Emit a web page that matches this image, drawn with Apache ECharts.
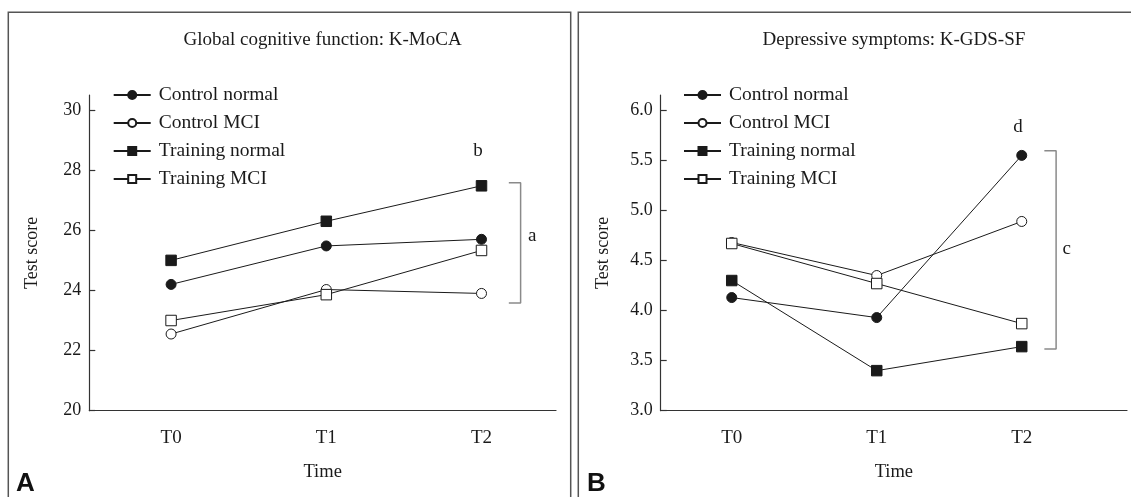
<!DOCTYPE html>
<html>
<head>
<meta charset="utf-8">
<script src="https://cdn.jsdelivr.net/npm/echarts@6/dist/echarts.min.js"></script>
<style>
html,body{margin:0;padding:0;background:#fff;}
#chart{width:1131px;height:497px;}
</style>
</head>
<body>
<div id="chart"></div>
<script>
// ---- data ----
const categories = ['T0', 'T1', 'T2'];
const seriesNames = ['Control normal', 'Control MCI', 'Training normal', 'Training MCI'];

// Panel A: K-MoCA
const mocaControlNormal = [24.2, 25.48, 25.7];
const mocaControlMCI = [22.55, 24.03, 23.9];
const mocaTrainingNormal = [25.0, 26.3, 27.48];
const mocaTrainingMCI = [23.0, 23.86, 25.33];
const mocaTicks = [20, 22, 24, 26, 28, 30];

// Panel B: K-GDS-SF
const gdsControlNormal = [4.13, 3.93, 5.55];
const gdsControlMCI = [4.68, 4.35, 4.89];
const gdsTrainingNormal = [4.30, 3.40, 3.64];
const gdsTrainingMCI = [4.67, 4.27, 3.87];
const gdsTicks = [3.0, 3.5, 4.0, 4.5, 5.0, 5.5, 6.0];

// significance annotations (data coordinates)
const mocaBracketRange = [23.58, 27.58];
const gdsBracketRange = [3.615, 5.597];
const mocaLetters = [[1.977, 28.64, 'b'], [2.327, 25.82, 'a']];
const gdsLetters = [[1.975, 5.83, 'd'], [2.31, 4.61, 'c']];

// ---- styles ----
const serif = 'Liberation Serif';
const ink = '#1a1a1a';
const markerStyles = [
  { symbol: 'circle', fill: ink, size: 10 },
  { symbol: 'circle', fill: '#ffffff', size: 10 },
  { symbol: 'rect', fill: ink, size: 10.5 },
  { symbol: 'rect', fill: '#ffffff', size: 10.5 }
];

function lineSeries(name, values, idx, st) {
  return {
    type: 'line', name: name, xAxisIndex: idx, yAxisIndex: idx,
    data: values.map((v, i) => [i, v]),
    symbol: st.symbol, symbolSize: st.size, showSymbol: true,
    lineStyle: { color: ink, width: 1 },
    itemStyle: { color: st.fill, borderColor: ink, borderWidth: 1 },
    emphasis: { disabled: true },
    z: 3
  };
}
function bracketSeries(idx, range, x0, x1) {
  return {
    type: 'line', xAxisIndex: idx, yAxisIndex: idx, silent: true,
    data: [[x0, range[1]], [x1, range[1]], [x1, range[0]], [x0, range[0]]],
    symbol: 'none', lineStyle: { color: '#8a8a8a', width: 1.5 }, z: 2
  };
}
function letterSeries(idx, letters) {
  return {
    type: 'scatter', xAxisIndex: idx, yAxisIndex: idx, silent: true,
    data: letters.map(d => ({ value: [d[0], d[1]], name: d[2] })),
    symbolSize: 0, itemStyle: { color: ink },
    emphasis: { disabled: true },
    label: { show: true, position: 'inside', formatter: p => p.name,
      fontFamily: serif, fontSize: 19, color: ink, opacity: 1, textBorderWidth: 0 }
  };
}
function xAxisDef(idx, min, max) {
  return {
    type: 'value', gridIndex: idx, min: min, max: max,
    name: 'Time', nameLocation: 'middle', nameGap: 52,
    nameTextStyle: { fontFamily: serif, fontSize: 18.5, color: ink },
    axisLine: { onZero: false, lineStyle: { color: '#333', width: 1.2 } },
    axisTick: { show: false },
    splitLine: { show: false },
    axisLabel: { customValues: categories.map((c, i) => i), formatter: v => categories[Math.round(v)],
      margin: 18, fontFamily: serif, fontSize: 19, color: ink }
  };
}
function yAxisDef(idx, min, max, ticks, dec) {
  return {
    type: 'value', gridIndex: idx, min: min, max: max,
    name: 'Test score', nameLocation: 'middle', nameGap: 48,
    nameTextStyle: { fontFamily: serif, fontSize: 18, color: ink },
    axisLine: { show: true, onZero: false, lineStyle: { color: '#333', width: 1.2 } },
    axisTick: { show: true, inside: true, length: 6, customValues: ticks, lineStyle: { color: '#333', width: 1.2 } },
    splitLine: { show: false },
    axisLabel: { customValues: ticks, formatter: v => v.toFixed(dec), margin: 8,
      fontFamily: serif, fontSize: 18, color: ink }
  };
}
function legendDef(left) {
  return {
    data: seriesNames, orient: 'vertical', left: left, top: 85, padding: 0,
    itemWidth: 37, itemHeight: 10, itemGap: 8, selectedMode: false,
    textStyle: { fontFamily: serif, fontSize: 19.5, color: ink, lineHeight: 20, padding: [0, 0, 0, 3] }
  };
}

const chart = echarts.init(document.getElementById('chart'), null, { renderer: 'canvas' });
const series = [];
[[mocaControlNormal, mocaControlMCI, mocaTrainingNormal, mocaTrainingMCI],
 [gdsControlNormal, gdsControlMCI, gdsTrainingNormal, gdsTrainingMCI]].forEach((group, idx) => {
  group.forEach((vals, k) => series.push(lineSeries(seriesNames[k], vals, idx, markerStyles[k])));
});
series.push(bracketSeries(0, mocaBracketRange, 2.176, 2.252));
series.push(bracketSeries(1, gdsBracketRange, 2.156, 2.237));
series.push(letterSeries(0, mocaLetters));
series.push(letterSeries(1, gdsLetters));

chart.setOption({
  animation: false,
  backgroundColor: '#ffffff',
  grid: [
    { left: 89.3, right: 575, top: 95, bottom: 86.3 },
    { left: 660.7, right: 4, top: 95, bottom: 86.3 }
  ],
  xAxis: [xAxisDef(0, -0.527, 2.48), xAxisDef(1, -0.49, 2.726)],
  yAxis: [yAxisDef(0, 20, 30.5, mocaTicks, 0), yAxisDef(1, 3, 6.153, gdsTicks, 1)],
  legend: [legendDef(112.7), legendDef(683)],
  series: series,
  graphic: [
    { type: 'rect', shape: { x: 8.3, y: 12.3, width: 562.4, height: 520 }, style: { fill: 'none', stroke: '#555', lineWidth: 1.5 }, silent: true },
    { type: 'rect', shape: { x: 578.3, y: 12.3, width: 600, height: 520 }, style: { fill: 'none', stroke: '#555', lineWidth: 1.5 }, silent: true },
    { type: 'text', x: 322.6, y: 40, style: { text: 'Global cognitive function: K-MoCA', font: '19px "Liberation Serif"', fill: ink, textAlign: 'center', textVerticalAlign: 'middle' } },
    { type: 'text', x: 893.9, y: 40, style: { text: 'Depressive symptoms: K-GDS-SF', font: '19px "Liberation Serif"', fill: ink, textAlign: 'center', textVerticalAlign: 'middle' } },
    { type: 'text', x: 16, y: 484, style: { text: 'A', font: 'bold 26px "Liberation Sans"', fill: '#111', textAlign: 'left', textVerticalAlign: 'middle' } },
    { type: 'text', x: 587, y: 484, style: { text: 'B', font: 'bold 26px "Liberation Sans"', fill: '#111', textAlign: 'left', textVerticalAlign: 'middle' } }
  ]
});
</script>
</body>
</html>
